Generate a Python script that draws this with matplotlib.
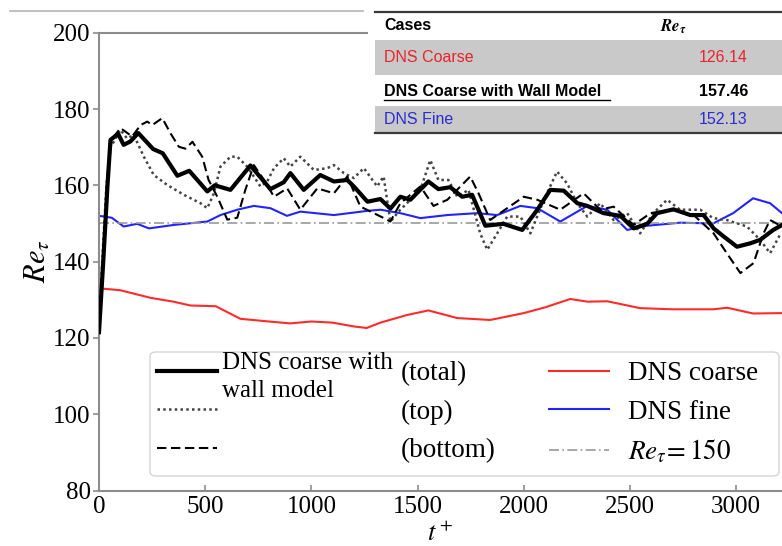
import matplotlib
matplotlib.use("Agg")
import matplotlib.pyplot as plt
from matplotlib.patches import Rectangle, FancyBboxPatch
from matplotlib.lines import Line2D

# ---- data ----------------------------------------------------------
t_total = [0, 20, 40, 54, 90, 116, 148, 185, 255, 300, 369, 425, 510, 545,
           619, 713, 807, 870, 901, 964, 1042, 1106, 1169, 1200, 1264, 1325,
           1372, 1419, 1466, 1551, 1598, 1654, 1710, 1757, 1819, 1904, 1993,
           2064, 2125, 2188, 2252, 2299, 2376, 2455, 2517, 2581, 2628, 2705,
           2784, 2847, 2894, 2941, 3004, 3067, 3113, 3175, 3216]
re_total = [121.5, 140, 160, 171.9, 173.5, 170.6, 171.5, 173.7, 169.5, 168.4,
            162.5, 163.8, 158.4, 160.0, 158.8, 165.2, 159.0, 160.8, 163.2,
            158.8, 162.7, 161.0, 161.4, 159.7, 155.7, 156.4, 153.9, 157.0,
            156.2, 161.0, 159.0, 159.5, 157.0, 157.5, 149.4, 149.9, 148.3,
            153.6, 158.8, 158.6, 155.3, 154.6, 152.7, 152.0, 148.7, 149.9,
            152.7, 153.7, 152.2, 152.2, 148.7, 146.6, 143.9, 144.8, 145.7,
            148.3, 149.6]

t_bottom = [0, 20, 40, 60, 101, 156, 196, 227, 251, 298, 337, 376, 407, 440,
            486, 516, 557, 604, 651, 689, 729, 777, 824, 886, 948, 1028, 1106,
            1169, 1231, 1294, 1341, 1372, 1419, 1513, 1575, 1640, 1748, 1787,
            1842, 1922, 2000, 2064, 2172, 2282, 2360, 2423, 2517, 2597, 2691,
            2800, 2894, 2956, 3020, 3082, 3129, 3160, 3216]
re_bottom = [121.5, 142, 163, 172, 175.0, 172.8, 175.8, 176.7, 175.8, 177.6,
             173.6, 170.1, 169.6, 171.4, 167.5, 161.4, 157.0, 151.0, 151.5,
             158.8, 165.3, 161.4, 157.0, 159.2, 153.6, 159.2, 157.9, 162.3,
             154.4, 152.7, 151.4, 150.5, 155.3, 159.7, 154.6, 156.2, 162.3,
             157.9, 150.9, 154.0, 157.0, 156.2, 153.6, 157.9, 153.6, 154.4,
             149.6, 152.7, 153.6, 152.2, 147.4, 142.2, 137.0, 139.6, 147.4,
             150.9, 149.2]

t_top = [0, 15, 35, 55, 101, 132, 164, 211, 258, 321, 400, 478, 510, 541,
         572, 619, 651, 698, 760, 792, 824, 870, 901, 948, 1012, 1075, 1106,
         1153, 1200, 1247, 1310, 1340, 1372, 1419, 1513, 1560, 1598, 1645,
         1687, 1740, 1795, 1828, 1875, 1922, 1984, 2031, 2095, 2157, 2204,
         2252, 2299, 2360, 2423, 2487, 2548, 2610, 2675, 2736, 2831, 2892,
         2956, 3051, 3113, 3160, 3210]
re_top = [121.5, 140, 160, 170, 174.5, 172.3, 173.2, 167.5, 162.7, 160.1,
          157.5, 155.3, 154.0, 157.9, 164.9, 167.5, 167.5, 164.9, 159.7,
          161.0, 164.5, 167.1, 164.9, 167.5, 164.0, 164.5, 165.3, 163.2,
          161.9, 164.5, 159.7, 162.3, 150.5, 153.6, 158.8, 166.6, 161.4,
          161.4, 157.0, 158.8, 147.4, 143.1, 147.4, 151.8, 151.8, 147.4,
          156.2, 163.6, 160.5, 155.3, 151.8, 155.3, 150.9, 152.7, 147.4,
          152.7, 156.2, 153.6, 153.6, 151.4, 150.9, 149.2, 145.7, 142.2,
          147.4]

t_coarse = [0, 100, 243, 350, 430, 550, 666, 800, 900, 1000, 1100, 1200, 1260,
            1325, 1450, 1551, 1687, 1842, 2000, 2100, 2219, 2300, 2393, 2548,
            2700, 2892, 2958, 3080, 3216]
re_coarse = [133.0, 132.5, 130.5, 129.5, 128.5, 128.3, 125.0, 124.3, 123.8,
             124.3, 124.0, 123.0, 122.6, 124.0, 126.0, 127.2, 125.2, 124.7,
             126.5, 128.0, 130.2, 129.5, 129.6, 127.8, 127.5, 127.5, 127.9,
             126.4, 126.5]

t_fine = [0, 60, 116, 180, 235, 351, 510, 572, 651, 729, 807, 885, 948, 1106,
          1264, 1325, 1419, 1513, 1640, 1781, 1875, 1984, 2064, 2172, 2299,
          2393, 2487, 2581, 2736, 2892, 2986, 3080, 3160, 3216]
re_fine = [152.0, 151.5, 149.2, 149.9, 148.7, 149.6, 150.5, 152.2, 153.6,
           154.6, 154.0, 152.0, 153.1, 152.2, 153.3, 153.6, 152.7, 151.4,
           152.2, 152.7, 152.2, 154.6, 154.0, 150.5, 154.6, 153.6, 148.3,
           149.4, 150.2, 150.0, 152.7, 156.6, 155.3, 152.7]

re_target = 150
t_span = [0, 3216]

cases = ["DNS Coarse", "DNS Coarse with Wall Model", "DNS Fine"]
case_re = ["126.14", "157.46", "152.13"]
case_colors = ["#e8232a", "black", "#2b2bd6"]

W, H = 782, 546


def fx(x):
    return x / W


def fy(y):
    return 1 - y / H


plt.rcParams["font.family"] = "serif"
plt.rcParams["font.serif"] = ["Liberation Serif", "DejaVu Serif"]
plt.rcParams["mathtext.fontset"] = "stix"

fig = plt.figure(figsize=(W / 100, H / 100), dpi=100)
fig.patch.set_facecolor("white")
ax = fig.add_axes([fx(99), fy(490.5), 1 - fx(99), fy(32.7) - fy(490.5)])

ln_c, = ax.plot(t_coarse, re_coarse, color="#ff2a2a", lw=1.5, zorder=2)
ln_f, = ax.plot(t_fine, re_fine, color="#2323ff", lw=1.5, zorder=2)
ln_r = ax.axhline(re_target, color="#9a9a9a", lw=1.2, ls=(0, (6, 2, 1, 2)),
                  zorder=2)
ln_top, = ax.plot(t_top, re_top, color="#444444", lw=1.8,
                  ls=(0, (1, 1.3)), zorder=3)
ln_bot, = ax.plot(t_bottom, re_bottom, color="black", lw=1.5,
                  ls=(0, (4.5, 2.2)), zorder=3)
ln_tot, = ax.plot(t_total, re_total, color="black", lw=3.0, zorder=4)

ax.set_xlim(*t_span)
ax.set_ylim(80, 200)
ax.set_xticks(range(0, 3001, 500))
ax.set_yticks(range(80, 201, 20))
for s in ("left", "bottom", "top"):
    ax.spines[s].set_color("#8c8c8c")
    ax.spines[s].set_linewidth(1.5)
ax.spines["right"].set_visible(False)
ax.tick_params(axis="y", direction="out", length=4, width=1.2,
               color="#8c8c8c", labelsize=18, pad=2)
ax.tick_params(axis="x", direction="in", length=4, width=1.2,
               color="#8c8c8c", labelsize=18, pad=4)
ax.set_xlabel(r"$t^+$", fontsize=19, labelpad=3)
ax.set_ylabel(r"$Re_\tau$", fontsize=22, labelpad=0)

# ---- legend (two frameless legends over one shared box) -----------
box = FancyBboxPatch((fx(150), fy(476)), fx(779) - fx(150), fy(352) - fy(476),
                     boxstyle="round,pad=0,rounding_size=0.008",
                     transform=fig.transFigure, facecolor="white",
                     edgecolor="#d4d4d4", lw=1.0, zorder=5)
ax.add_patch(box)
box.set_clip_on(False)

common = dict(frameon=False, fontsize=19.5, borderpad=0, borderaxespad=0,
              labelspacing=0.5, bbox_transform=fig.transFigure,
              loc="upper left")
leg1 = ax.legend([ln_tot, ln_top, ln_bot], ["(total)", "(top)", "(bottom)"],
                 handlelength=2.2, handletextpad=6.8,
                 bbox_to_anchor=(fx(157), fy(361)), **common)
leg1.set_zorder(6)
ax.add_artist(leg1)
leg2 = ax.legend([ln_c, ln_f, ln_r],
                 ["DNS coarse", "DNS fine", r"$Re_\tau\!=150$"],
                 handlelength=2.2, handletextpad=0.7,
                 bbox_to_anchor=(fx(549), fy(361)), **common)
leg2.set_zorder(6)
fig.text(fx(222), fy(352), "DNS coarse with\nwall model", fontsize=18,
         va="top", ha="left", linespacing=1.35, zorder=7)

# ---- overlaid table (top right) ------------------------------------
fig.add_artist(Line2D([fx(10), fx(363)], [fy(10.7), fy(10.7)],
                      transform=fig.transFigure, color="#b5b5b5", lw=1.2))
fig.add_artist(Rectangle((fx(368), fy(137)), 1 - fx(368), fy(0) - fy(137),
                         transform=fig.transFigure, facecolor="white",
                         edgecolor="none", zorder=8))
for top, bot in ((40, 75), (106, 132)):
    fig.add_artist(Rectangle((fx(375), fy(bot)), 1 - fx(375),
                             fy(top) - fy(bot), transform=fig.transFigure,
                             facecolor="#c9c9c9", edgecolor="none", zorder=9))
for yy in (11.7, 133):
    fig.add_artist(Line2D([fx(375), 1], [fy(yy), fy(yy)],
                          transform=fig.transFigure, color="#3a3a3a", lw=1.6,
                          zorder=10))

sans = "Liberation Sans"
fig.text(fx(384), fy(26), "Cases", family=sans, fontsize=11.5,
         fontweight="bold", va="center", zorder=11)
fig.text(fx(660), fy(27), r"$\mathbfit{Re}_{\mathbfit{\tau}}$", fontsize=12,
         va="center", zorder=11)
row_y = [58, 91, 119]
for name, val, col, yy in zip(cases, case_re, case_colors, row_y):
    bold = "bold" if col == "black" else "normal"
    fig.text(fx(384), fy(yy), name, family=sans, fontsize=11.5,
             fontweight=bold, color=col, va="center", zorder=11)
    if col == "black":
        # underline under the bold row label
        fig.add_artist(Line2D([fx(384), fx(610)], [fy(99.5), fy(99.5)],
                              transform=fig.transFigure, color="black",
                              lw=1.0, zorder=11))
    fig.text(fx(748), fy(yy), val, family=sans, fontsize=11.5,
             fontweight=bold, color=col, va="center", ha="right", zorder=11)

fig.savefig("out.png", dpi=100, facecolor="white")
